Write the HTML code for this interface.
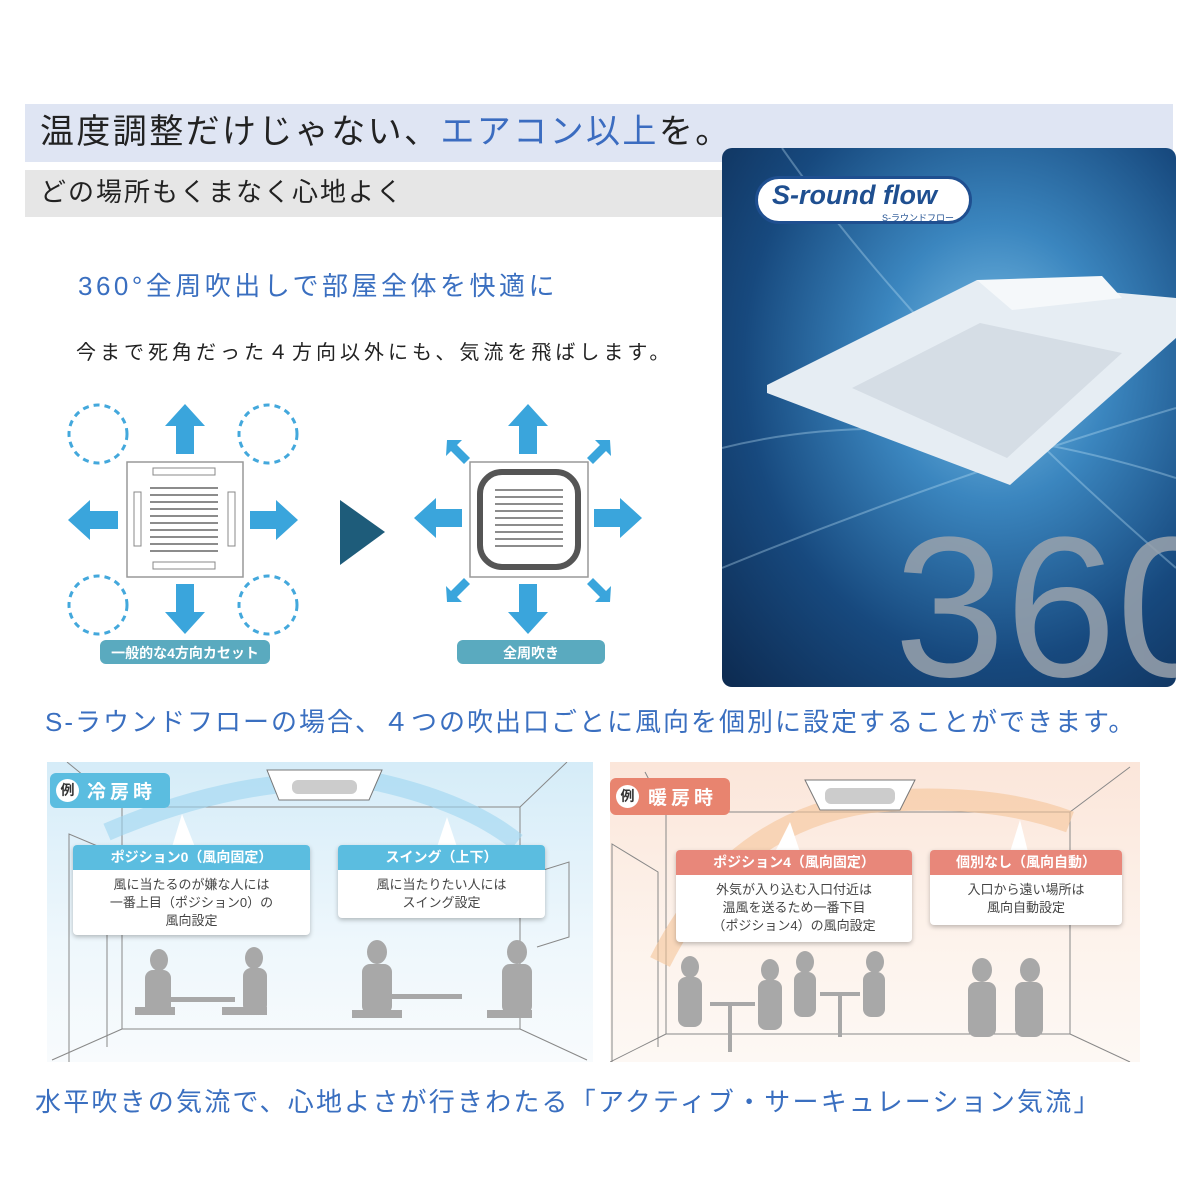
<!DOCTYPE html>
<html><head><meta charset="utf-8"><style>
body{margin:0;width:1200px;height:1200px;background:#fff;position:relative;overflow:hidden;font-family:"Liberation Sans","Noto Sans CJK JP",sans-serif}
.a{position:absolute;white-space:nowrap}
.blue{color:#3b6cc0}
.box{position:absolute;background:#fff;border-radius:4px;box-shadow:0 2px 5px rgba(0,0,0,.25);text-align:center;font-size:13px;color:#444;line-height:18px}
.box .h{color:#fff;font-size:14px;font-weight:bold;height:25px;line-height:25px;border-radius:4px 4px 0 0;margin-bottom:6px}
</style></head><body>
<div class="a" style="left:25px;top:104px;width:1148px;height:58px;background:#dfe5f3"></div>
<div class="a" style="left:40px;top:108px;font-size:34px;line-height:48px;color:#222;letter-spacing:2.4px">温度調整だけじゃない、<span class="blue">エアコン以上</span>を。</div>
<div class="a" style="left:25px;top:170px;width:697px;height:47px;background:#e6e6e6"></div>
<div class="a" style="left:40px;top:172px;font-size:26px;line-height:40px;color:#222;letter-spacing:2px">どの場所もくまなく心地よく</div>

<div class="a" style="left:722px;top:148px;width:454px;height:539px;border-radius:10px;overflow:hidden;background:radial-gradient(ellipse at 60% 40%,#7fc0e6 0%,#3b86bf 30%,#17497e 65%,#0d2a50 100%)">
<svg width="454" height="539" style="position:absolute;left:0;top:0">
<g stroke="#bfe3f7" stroke-width="2" fill="none" opacity=".35"><path d="M0 300 Q200 250 454 330"/><path d="M0 420 Q220 330 454 260"/><path d="M60 0 Q200 200 454 420"/></g>
<polygon points="45,237 255,132 454,150 454,190 288,337 45,245" fill="#e6edf3"/>
<polygon points="130,240 258,175 400,205 285,310" fill="#d5dde5"/>
<polygon points="255,132 380,128 400,150 290,162" fill="#f5f8fa"/>
<text x="172" y="528" font-size="200" fill="#9aa3ad" font-family="Liberation Sans" opacity=".85">360</text>
</svg>
<div class="a" style="left:33px;top:28px;width:217px;height:48px;border-radius:24px;background:#fff;border:3px solid #1f4f90;box-sizing:border-box"></div>
<div class="a" style="left:50px;top:32px;font-size:27px;font-weight:bold;font-style:italic;color:#1f4f90">S-round flow</div>
<div class="a" style="left:160px;top:63px;font-size:9px;color:#1f4f90">S-ラウンドフロー</div>
</div>

<div class="a" style="left:78px;top:266px;font-size:26px;color:#3a6fc0;letter-spacing:3.5px">360°全周吹出しで部屋全体を快適に</div>
<div class="a" style="left:76px;top:336px;font-size:20px;color:#222;letter-spacing:4px">今まで死角だった４方向以外にも、気流を飛ばします。</div>

<svg class="a" style="left:0;top:390px" width="700" height="290">
<g fill="none" stroke="#43a8dc" stroke-width="3" stroke-dasharray="6,5">
<circle cx="98" cy="44" r="29"/><circle cx="268" cy="44" r="29"/><circle cx="98" cy="215" r="29"/><circle cx="268" cy="215" r="29"/></g>
<g fill="#3aa5dc">
<polygon points="185,14 205,36 194,36 194,64 176,64 176,36 165,36"/>
<polygon points="185,244 205,222 194,222 194,194 176,194 176,222 165,222"/>
<polygon points="68,130 90,110 90,121 118,121 118,139 90,139 90,150"/>
<polygon points="298,130 276,110 276,121 250,121 250,139 276,139 276,150"/>
<polygon points="528,14 548,36 537,36 537,64 519,64 519,36 508,36"/>
<polygon points="528,244 548,222 537,222 537,194 519,194 519,222 508,222"/>
<polygon points="414,128 436,108 436,119 462,119 462,137 436,137 436,148"/>
<polygon points="642,128 620,108 620,119 594,119 594,137 620,137 620,148"/>
<polygon points="447,50 462,50 457,55 470,68 464,74 451,61 446,66"/>
<polygon points="610,50 595,50 600,55 587,68 593,74 606,61 611,66"/>
<polygon points="447,212 462,212 457,207 470,194 464,188 451,201 446,196"/>
<polygon points="610,212 595,212 600,207 587,194 593,188 606,201 611,196"/>
</g>
<rect x="127" y="72" width="116" height="115" fill="#fff" stroke="#999" stroke-width="1.5"/>
<g fill="none" stroke="#888"><rect x="153" y="78" width="62" height="7"/><rect x="153" y="172" width="62" height="7"/><rect x="134" y="102" width="7" height="54"/><rect x="228" y="102" width="7" height="54"/></g>
<g stroke="#666" stroke-width="1.5"><line x1="150" y1="98" x2="218" y2="98"/><line x1="150" y1="105" x2="218" y2="105"/><line x1="150" y1="112" x2="218" y2="112"/><line x1="150" y1="119" x2="218" y2="119"/><line x1="150" y1="126" x2="218" y2="126"/><line x1="150" y1="133" x2="218" y2="133"/><line x1="150" y1="140" x2="218" y2="140"/><line x1="150" y1="147" x2="218" y2="147"/><line x1="150" y1="154" x2="218" y2="154"/><line x1="150" y1="161" x2="218" y2="161"/></g>
<polygon points="340,110 385,142 340,175" fill="#1e5c7a"/>
<rect x="470" y="72" width="118" height="115" fill="#fff" stroke="#999" stroke-width="1.5"/>
<rect x="480" y="82" width="98" height="95" rx="22" fill="none" stroke="#555" stroke-width="6"/>
<g stroke="#666" stroke-width="1.5"><line x1="495" y1="100" x2="563" y2="100"/><line x1="495" y1="107" x2="563" y2="107"/><line x1="495" y1="114" x2="563" y2="114"/><line x1="495" y1="121" x2="563" y2="121"/><line x1="495" y1="128" x2="563" y2="128"/><line x1="495" y1="135" x2="563" y2="135"/><line x1="495" y1="142" x2="563" y2="142"/><line x1="495" y1="149" x2="563" y2="149"/><line x1="495" y1="156" x2="563" y2="156"/></g>
<rect x="100" y="250" width="170" height="24" rx="6" fill="#5aaabf"/>
<text x="185" y="268" text-anchor="middle" font-size="14" font-weight="bold" fill="#fff" font-family="Liberation Sans,Noto Sans CJK JP,sans-serif">一般的な4方向カセット</text>
<rect x="457" y="250" width="148" height="24" rx="6" fill="#5aaabf"/>
<text x="531" y="268" text-anchor="middle" font-size="14" font-weight="bold" fill="#fff" font-family="Liberation Sans,Noto Sans CJK JP,sans-serif">全周吹き</text>
</svg>

<div class="a" style="left:45px;top:702px;font-size:26px;color:#3a6fc0;letter-spacing:2px">S-ラウンドフローの場合、４つの吹出口ごとに風向を個別に設定することができます。</div>

<div class="a" style="left:47px;top:762px;width:546px;height:300px;background:linear-gradient(#d5ecf8,#eef7fc 60%,#f8fbfd)"></div>
<svg class="a" style="left:47px;top:762px" width="546" height="300">
<g stroke="#888" fill="none" stroke-width="1"><rect x="75" y="45" width="398" height="222"/><line x1="75" y1="45" x2="20" y2="0"/><line x1="473" y1="45" x2="520" y2="0"/><line x1="75" y1="267" x2="5" y2="298"/><line x1="473" y1="267" x2="540" y2="298"/><polyline points="22,300 22,72 60,88 60,285"/><polyline points="490,110 522,100 522,175 490,185 z"/></g>
<path d="M60 70 Q200 10 330 20 Q420 40 470 80" stroke="#9fd5f0" stroke-width="18" fill="none" opacity=".6"/>
<polygon points="220,8 335,8 322,38 232,38" fill="#fff" stroke="#777"/>
<rect x="245" y="18" width="65" height="14" rx="6" fill="#ccc"/>
<g fill="#a8a8a8">
<ellipse cx="112" cy="198" rx="9" ry="11"/><rect x="98" y="208" width="26" height="45" rx="8"/><rect x="118" y="235" width="70" height="5"/><rect x="88" y="245" width="40" height="8"/>
<ellipse cx="207" cy="196" rx="9" ry="11"/><rect x="196" y="206" width="24" height="45" rx="8"/><rect x="175" y="245" width="45" height="8"/>
<ellipse cx="330" cy="190" rx="10" ry="12"/><rect x="315" y="202" width="30" height="50" rx="8"/><rect x="340" y="232" width="75" height="5"/><rect x="305" y="248" width="50" height="8"/>
<ellipse cx="470" cy="190" rx="10" ry="12"/><rect x="455" y="202" width="30" height="50" rx="8"/><rect x="440" y="248" width="45" height="8"/>
</g>
<polygon points="125,85 135,52 148,85" fill="#fff"/><polygon points="390,85 400,55 410,85" fill="#fff"/>
</svg>
<div class="a" style="left:50px;top:773px;width:120px;height:35px;background:#5bbde0;border-radius:6px"></div>
<div class="a" style="left:56px;top:779px;width:23px;height:23px;border-radius:50%;background:#fff;font-size:14px;line-height:23px;text-align:center;color:#333;font-weight:bold">例</div>
<div class="a" style="left:87px;top:777px;font-size:19px;color:#fff;font-weight:bold;letter-spacing:4px">冷房時</div>
<div class="box" style="left:73px;top:845px;width:237px;height:90px"><div class="h" style="background:#5bbde0">ポジション0（風向固定）</div>風に当たるのが嫌な人には<br>一番上目（ポジション0）の<br>風向設定</div>
<div class="box" style="left:338px;top:845px;width:207px;height:73px"><div class="h" style="background:#5bbde0">スイング（上下）</div>風に当たりたい人には<br>スイング設定</div>

<div class="a" style="left:610px;top:762px;width:530px;height:300px;background:linear-gradient(#fbe6da,#fdf3ec 60%,#fdf8f4)"></div>
<svg class="a" style="left:610px;top:762px" width="530" height="300">
<g stroke="#888" fill="none" stroke-width="1"><rect x="56" y="50" width="404" height="222"/><line x1="56" y1="50" x2="35" y2="10"/><line x1="460" y1="50" x2="520" y2="5"/><line x1="56" y1="272" x2="0" y2="300"/><line x1="460" y1="272" x2="520" y2="300"/><polyline points="2,300 2,82 48,110 48,285"/></g>
<path d="M50 200 Q120 60 260 40 Q380 30 460 60" stroke="#f5c49a" stroke-width="22" fill="none" opacity=".6"/>
<polygon points="195,18 305,18 290,48 210,48" fill="#fff" stroke="#777"/>
<rect x="215" y="26" width="70" height="16" rx="6" fill="#ccc"/>
<g fill="#a8a8a8">
<ellipse cx="80" cy="205" rx="9" ry="11"/><rect x="68" y="215" width="24" height="50" rx="8"/>
<ellipse cx="160" cy="208" rx="9" ry="11"/><rect x="148" y="218" width="24" height="50" rx="8"/><rect x="100" y="240" width="45" height="4"/><rect x="118" y="240" width="4" height="50"/>
<ellipse cx="195" cy="200" rx="9" ry="11"/><rect x="184" y="210" width="22" height="45" rx="8"/>
<ellipse cx="265" cy="200" rx="9" ry="11"/><rect x="253" y="210" width="22" height="45" rx="8"/><rect x="210" y="230" width="40" height="4"/><rect x="228" y="230" width="4" height="45"/>
<ellipse cx="372" cy="208" rx="10" ry="12"/><rect x="358" y="220" width="28" height="55" rx="8"/>
<ellipse cx="420" cy="208" rx="10" ry="12"/><rect x="405" y="220" width="28" height="55" rx="8"/>
</g>
<polygon points="165,90 180,60 190,90" fill="#fff"/><polygon points="400,90 410,58 418,90" fill="#fff"/>
</svg>
<div class="a" style="left:610px;top:778px;width:120px;height:37px;background:#e8846f;border-radius:6px"></div>
<div class="a" style="left:616px;top:785px;width:23px;height:23px;border-radius:50%;background:#fff;font-size:14px;line-height:23px;text-align:center;color:#333;font-weight:bold">例</div>
<div class="a" style="left:648px;top:783px;font-size:19px;color:#fff;font-weight:bold;letter-spacing:4px">暖房時</div>
<div class="box" style="left:676px;top:850px;width:236px;height:92px"><div class="h" style="background:#e8877a">ポジション4（風向固定）</div>外気が入り込む入口付近は<br>温風を送るため一番下目<br>（ポジション4）の風向設定</div>
<div class="box" style="left:930px;top:850px;width:192px;height:75px"><div class="h" style="background:#e8877a">個別なし（風向自動）</div>入口から遠い場所は<br>風向自動設定</div>

<div class="a" style="left:35px;top:1082px;font-size:26px;color:#3a6fc0;letter-spacing:2.2px">水平吹きの気流で、心地よさが行きわたる「アクティブ・サーキュレーション気流」</div>
</body></html>
